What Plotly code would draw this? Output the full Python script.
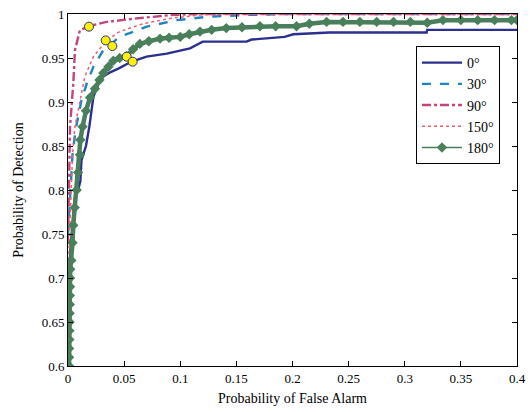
import plotly.graph_objects as go

# 0 degrees
x0 = [0.001, 0.002, 0.004, 0.006, 0.009, 0.011, 0.012, 0.016, 0.019, 0.0226, 0.027, 0.0315, 0.038, 0.0448,
      0.0567, 0.070, 0.088, 0.1087, 0.120, 0.159, 0.1636, 0.193, 0.2007, 0.233, 0.3195, 0.32, 0.4]
y0 = [0.70, 0.73, 0.76, 0.79, 0.80, 0.81, 0.834, 0.85, 0.872, 0.906, 0.92, 0.929, 0.934, 0.938,
      0.946, 0.9515, 0.955, 0.961, 0.9686, 0.9686, 0.971, 0.974, 0.977, 0.979, 0.979, 0.982, 0.982]

# 30 degrees
x30 = [0.0, 0.002, 0.004, 0.007, 0.010, 0.012, 0.0167, 0.0226, 0.0315, 0.046, 0.070, 0.097, 0.126, 0.160, 0.200, 0.4]
y30 = [0.75, 0.80, 0.84, 0.87, 0.89, 0.902, 0.921, 0.940, 0.959, 0.974, 0.9856, 0.993, 0.997, 0.999, 1.0, 1.0]

# 90 degrees
x90 = [0.0, 0.001, 0.0018, 0.0047, 0.0062, 0.0107, 0.0226, 0.0344, 0.061, 0.0935, 0.120, 0.4]
y90 = [0.74, 0.80, 0.872, 0.921, 0.959, 0.982, 0.9875, 0.991, 0.995, 0.999, 1.0, 1.0]

# 150 degrees
x150 = [0.0, 0.002, 0.004, 0.0062, 0.0107, 0.015, 0.0226, 0.0344, 0.046, 0.067, 0.091, 0.1176, 0.150, 0.4]
y150 = [0.70, 0.78, 0.84, 0.872, 0.902, 0.929, 0.9515, 0.970, 0.980, 0.989, 0.995, 0.999, 1.0, 1.0]

# 180 degrees
x180 = [0.001, 0.001, 0.001, 0.0012, 0.0012, 0.0014, 0.0014, 0.0016, 0.0016, 0.0018, 0.0018, 0.002,
        0.003, 0.004, 0.0047, 0.006, 0.0077, 0.009, 0.0107, 0.011, 0.013, 0.016, 0.0196, 0.024, 0.028,
        0.0315, 0.036, 0.0404, 0.046, 0.052, 0.058, 0.064, 0.072, 0.082, 0.090, 0.100, 0.108, 0.1176,
        0.128, 0.141, 0.155, 0.171, 0.185, 0.2036, 0.215, 0.2304, 0.245, 0.260, 0.275, 0.290, 0.305,
        0.320, 0.334, 0.350, 0.365, 0.380, 0.395, 0.4]
y180 = [0.600, 0.610, 0.620, 0.630, 0.640, 0.650, 0.660, 0.670, 0.680, 0.690, 0.700, 0.710,
        0.720, 0.740, 0.760, 0.780, 0.800, 0.820, 0.840, 0.857, 0.872, 0.890, 0.905, 0.915, 0.925,
        0.933, 0.940, 0.947, 0.950, 0.952, 0.960, 0.966, 0.969, 0.972, 0.973, 0.974, 0.977, 0.980,
        0.982, 0.984, 0.985, 0.986, 0.986, 0.986, 0.989, 0.991, 0.991, 0.991, 0.991, 0.991, 0.991,
        0.990, 0.993, 0.993, 0.993, 0.993, 0.993, 0.993]

# highlighted operating points
xp = [0.0187, 0.0336, 0.0395, 0.0523, 0.0576]
yp = [0.9856, 0.970, 0.9636, 0.9515, 0.9458]

labels = ["0°", "30°", "90°", "150°", "180°"]

c0, c30, c90, c150, c180 = "#2B2F8F", "#1E84C2", "#C2457F", "#EE5F6A", "#4A7F5C"
font = "Liberation Serif, Times New Roman, serif"

fig = go.Figure()
fig.add_trace(go.Scatter(x=x0, y=y0, mode="lines", name=labels[0], line=dict(color=c0, width=2.4)))
fig.add_trace(go.Scatter(x=x30, y=y30, mode="lines", name=labels[1],
                         line=dict(color=c30, width=2.4, dash="dash")))
fig.add_trace(go.Scatter(x=x90, y=y90, mode="lines", name=labels[2],
                         line=dict(color=c90, width=2.4, dash="dashdot")))
fig.add_trace(go.Scatter(x=x150, y=y150, mode="lines", name=labels[3],
                         line=dict(color=c150, width=1.5, dash="dot")))
fig.add_trace(go.Scatter(x=x180, y=y180, mode="lines", showlegend=False, hoverinfo="skip",
                         line=dict(color=c180, width=4.5)))
fig.add_trace(go.Scatter(x=x180, y=y180, mode="lines+markers", name=labels[4],
                         line=dict(color=c180, width=1.5),
                         marker=dict(symbol="diamond", size=8, color=c180)))
fig.add_trace(go.Scatter(x=xp, y=yp, mode="markers", showlegend=False,
                         marker=dict(symbol="circle", size=9, color="#FFF200",
                                     line=dict(color="#2B2F8F", width=1))))

axis_common = dict(showline=True, linecolor="black", linewidth=1, mirror="ticks",
                   ticks="inside", ticklen=5, tickcolor="black", showgrid=False, zeroline=False,
                   automargin=False,
                   tickfont=dict(family=font, size=13, color="black"))

fig.update_layout(
    width=531, height=412,
    margin=dict(l=68, r=14, t=14, b=46),
    paper_bgcolor="white", plot_bgcolor="white",
    font=dict(family=font, size=13, color="black"),
    xaxis=dict(range=[0, 0.4], dtick=0.05, tick0=0,
               title=dict(text="Probability of False Alarm", font=dict(family=font, size=14), standoff=8),
               **axis_common),
    yaxis=dict(range=[0.6, 1.0], dtick=0.05, tick0=0.6,
               title=dict(text="Probability of Detection", font=dict(family=font, size=14), standoff=14),
               **axis_common),
    legend=dict(x=0.775, y=0.909, xanchor="left", yanchor="top",
                bgcolor="white", bordercolor="black", borderwidth=1,
                font=dict(family=font, size=14, color="black"),
                tracegroupgap=0, itemwidth=40),
    showlegend=True,
)

fig.write_html("out.html", config={"displayModeBar": False})

with open("out.html", "r", encoding="utf-8") as f:
    html = f.read()
html = html.replace("<body>", '<body style="margin:0;padding:0;overflow:hidden">', 1)
with open("out.html", "w", encoding="utf-8") as f:
    f.write(html)
